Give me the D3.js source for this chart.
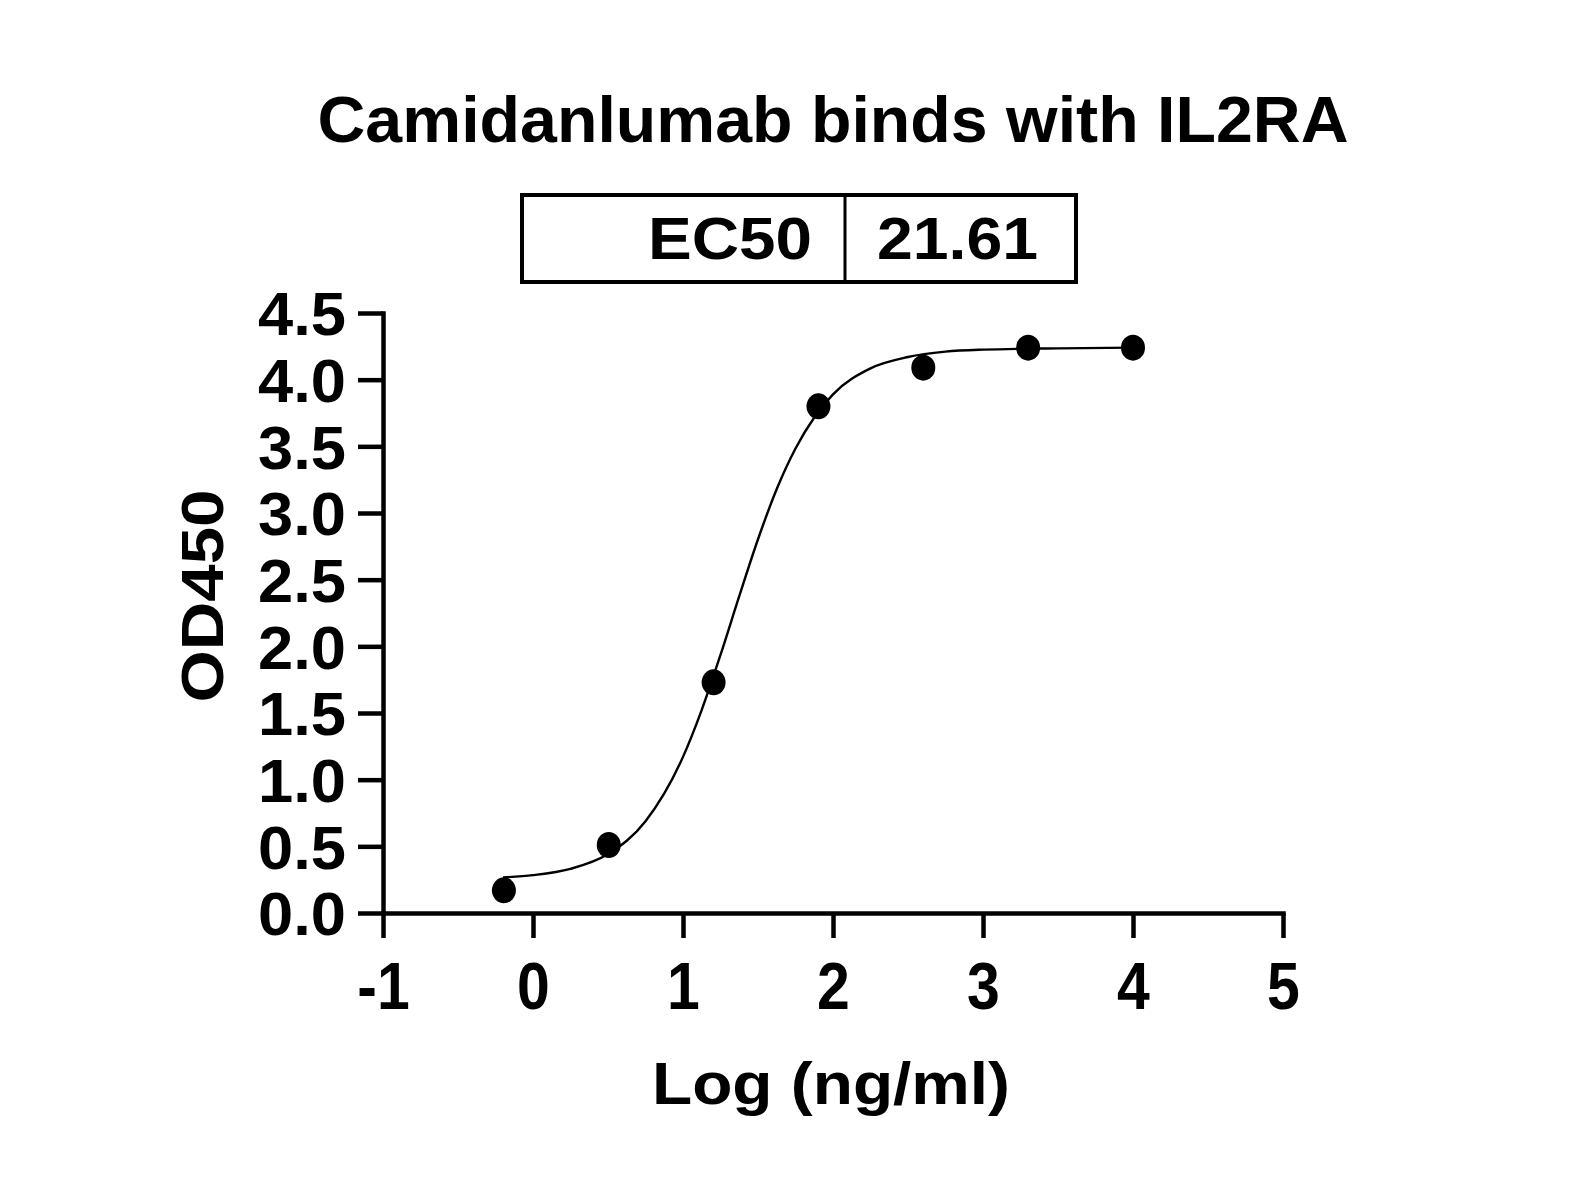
<!DOCTYPE html>
<html>
<head>
<meta charset="utf-8">
<script src="https://cdn.jsdelivr.net/npm/d3@7"></script>
<style>
  html, body { margin: 0; padding: 0; background: #fff; }
  text { font-family: "Liberation Sans", Arial, sans-serif; font-weight: bold; fill: #000; }
</style>
</head>
<body>
<svg id="chart" width="1595" height="1197"></svg>
<script>
// ---- data ----
const titleText = "Camidanlumab binds with IL2RA";
const ec50Label = "EC50";
const ec50Value = "21.61";
const xLabel = "Log (ng/ml)";
const yLabel = "OD450";
const pointX = [-0.194, 0.505, 1.204, 1.903, 2.602, 3.301, 4.0];
const pointY = [0.17, 0.51, 1.73, 3.80, 4.09, 4.24, 4.24];
const curveX = [-0.2, 0, 0.25, 0.5, 0.75, 1.0, 1.125, 1.25, 1.375, 1.5, 1.625, 1.75, 1.875, 2.0, 2.25, 2.5, 2.75, 3.0, 3.5, 4.0];
const curveY = [0.267, 0.284, 0.331, 0.442, 0.688, 1.171, 1.524, 1.936, 2.376, 2.803, 3.18, 3.484, 3.716, 3.89, 4.085, 4.17, 4.21, 4.225, 4.235, 4.24];
const xTicks = [-1, 0, 1, 2, 3, 4, 5];
const yTicks = [0, 0.5, 1.0, 1.5, 2.0, 2.5, 3.0, 3.5, 4.0, 4.5];

// ---- layout ----
const svg = d3.select("#chart");
const x = d3.scaleLinear().domain([-1, 5]).range([383, 1283]);
const y = d3.scaleLinear().domain([0, 4.5]).range([913, 313]);

// title
svg.append("text").attr("x", 833).attr("y", 142).attr("text-anchor", "middle")
  .attr("font-size", 64).attr("textLength", 1031).attr("lengthAdjust", "spacingAndGlyphs")
  .text(titleText);

// EC50 box
svg.append("rect").attr("x", 522).attr("y", 195).attr("width", 554).attr("height", 87)
  .attr("fill", "none").attr("stroke", "#000").attr("stroke-width", 4);
svg.append("line").attr("x1", 845).attr("x2", 845).attr("y1", 195).attr("y2", 282)
  .attr("stroke", "#000").attr("stroke-width", 3);
svg.append("text").attr("x", 648).attr("y", 259).attr("font-size", 60)
  .attr("textLength", 164).attr("lengthAdjust", "spacingAndGlyphs").text(ec50Label);
svg.append("text").attr("x", 877).attr("y", 259).attr("font-size", 60)
  .attr("textLength", 161).attr("lengthAdjust", "spacingAndGlyphs").text(ec50Value);

// axes
const yAxis = svg.append("g").attr("transform", `translate(${x(-1)},0)`)
  .call(d3.axisLeft(y).tickValues(yTicks).tickSize(25).tickSizeOuter(0).tickPadding(12).tickFormat(d3.format(".1f")));
const xAxis = svg.append("g").attr("transform", `translate(0,${y(0)})`)
  .call(d3.axisBottom(x).tickValues(xTicks).tickSize(25).tickSizeOuter(0).tickFormat(d => d < 0 ? "-" + Math.abs(d) : d));

[yAxis, xAxis].forEach(g => {
  g.select(".domain").attr("stroke", "#000").attr("stroke-width", 4.5).attr("stroke-linecap", "square");
  g.selectAll(".tick line").attr("stroke", "#000").attr("stroke-width", 4.5);
  g.selectAll(".tick text").attr("font-family", null).attr("fill", "#000");
});
yAxis.selectAll(".tick text").attr("font-size", 61).attr("dy", "0.36em")
  .attr("textLength", 88).attr("lengthAdjust", "spacingAndGlyphs");
xAxis.selectAll(".tick text").attr("font-size", 67).attr("dy", null).attr("y", 96)
  .each(function() {
    const len = this.getComputedTextLength();
    d3.select(this).attr("textLength", len * 0.88).attr("lengthAdjust", "spacingAndGlyphs");
  });

// axis titles
svg.append("text").attr("x", 831).attr("y", 1104).attr("text-anchor", "middle").attr("font-size", 60)
  .attr("textLength", 358).attr("lengthAdjust", "spacingAndGlyphs").text(xLabel);
svg.append("text").attr("transform", "translate(223,596) rotate(-90)").attr("text-anchor", "middle")
  .attr("font-size", 59).attr("textLength", 213).attr("lengthAdjust", "spacingAndGlyphs").text(yLabel);

// fitted curve
const curveData = curveX.map((v, i) => [v, curveY[i]]);
svg.append("path").datum(curveData)
  .attr("d", d3.line().x(d => x(d[0])).y(d => y(d[1])).curve(d3.curveMonotoneX))
  .attr("fill", "none").attr("stroke", "#000").attr("stroke-width", 2.4);

// points
svg.selectAll("ellipse.pt").data(pointX.map((v, i) => [v, pointY[i]])).enter()
  .append("ellipse").attr("class", "pt")
  .attr("cx", d => x(d[0])).attr("cy", d => y(d[1])).attr("rx", 12).attr("ry", 13)
  .attr("fill", "#000");
</script>
</body>
</html>
